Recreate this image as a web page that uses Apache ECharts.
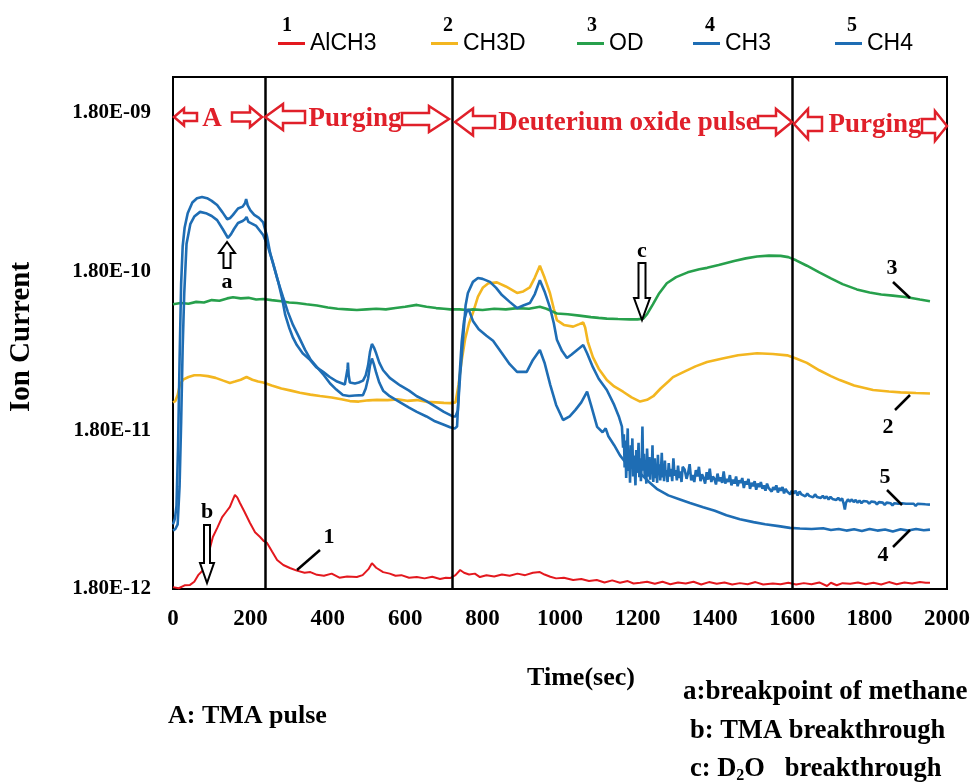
<!DOCTYPE html>
<html><head><meta charset="utf-8">
<script src="https://cdn.jsdelivr.net/npm/echarts@6/dist/echarts.min.js"></script>
<style>html,body{margin:0;padding:0;background:#fff}#c{width:971px;height:784px}</style>
</head><body><div id="c"></div><script>
// Ion current values in pA (1e-12 A), [time (s), value]
const AlCH3 = [[0,1.85],[15,1.82],[30,1.9],[44,1.91],[55,2.0],[65,2.2],[78,2.37],[90,2.9],[103,3.83],[115,4.4],[127,5.11],[137,5.5],[147,5.92],[155,6.6],[160,7.04],[166,6.8],[173,6.27],[185,5.5],[199,4.69],[212,4.1],[225,3.83],[235,3.6],[243,3.51],[256,3.1],[269,2.74],[285,2.55],[302,2.44],[320,2.35],[340,2.28],[355,2.3],[372,2.21],[390,2.18],[410,2.25],[430,2.12],[450,2.16],[475,2.14],[490,2.2],[505,2.4],[514,2.62],[525,2.45],[543,2.3],[560,2.25],[575,2.18],[590,2.2],[610,2.12],[630,2.14],[650,2.1],[670,2.15],[690,2.08],[705,2.12],[716,2.11],[730,2.2],[742,2.37],[752,2.28],[765,2.22],[780,2.25],[793,2.14],[810,2.2],[830,2.16],[850,2.22],[870,2.18],[890,2.25],[910,2.2],[930,2.28],[948,2.3],[960,2.22],[975,2.15],[990,2.1],[1010,2.12],[1034,2.05],[1055,2.08],[1075,2.02],[1095,2.05],[1115,1.98],[1135,2.04],[1155,1.97],[1175,2.02],[1190,1.95],[1207,1.97],[1225,2.0],[1245,1.94],[1265,2.0],[1285,1.93],[1305,1.98],[1325,1.95],[1345,2.0],[1365,1.92],[1385,1.99],[1405,1.94],[1425,1.98],[1445,1.92],[1465,1.96],[1485,1.93],[1505,1.99],[1525,1.92],[1550,1.95],[1570,1.93],[1590,1.97],[1610,1.92],[1630,1.96],[1650,1.93],[1670,1.98],[1690,1.88],[1700,1.97],[1715,1.9],[1730,1.96],[1750,1.94],[1770,1.98],[1790,1.93],[1810,1.97],[1830,1.92],[1850,1.99],[1870,1.93],[1890,1.98],[1910,1.95],[1930,1.99],[1945,1.97],[1956,1.97]];
const CH3D = [[0,27],[6,27.5],[12,30],[18,35],[26,37.5],[40,39],[55,40],[70,40],[90,39.5],[110,38.5],[130,37],[147,35.8],[160,36.5],[175,37.5],[190,39],[205,37.5],[220,36.5],[233,36],[255,34.5],[280,33],[305,32],[328,31],[355,30.2],[380,29.6],[410,29],[435,28.2],[457,27.5],[480,27.3],[505,27.8],[527,28],[555,27.9],[580,28.2],[605,27.6],[630,27.9],[655,27.2],[680,27],[700,26.8],[716,26.7],[730,27],[738,35],[745,48],[755,68],[765,85],[775,99],[788,125],[801,143],[815,152],[837,154],[860,145],[889,132],[905,135],[922,143],[935,165],[948,196],[960,165],[974,132],[984,105],[992,89],[1010,83],[1034,81],[1050,84],[1060,86],[1065,80],[1072,65],[1085,52],[1100,44],[1121,37.3],[1140,34],[1163,31.5],[1185,29],[1207,27.3],[1225,28],[1241,29.5],[1260,33],[1280,36.5],[1292,38.9],[1320,42],[1350,45.5],[1380,48.5],[1420,51],[1460,53.5],[1509,55],[1550,54.5],[1587,53.4],[1610,51],[1638,47.9],[1670,43],[1700,39.5],[1723,37.3],[1760,34.5],[1809,32.3],[1850,31.6],[1880,31.2],[1920,30.9],[1956,30.7]];
const OD = [[0,112],[20,114],[40,113],[60,116],[80,115],[100,119],[120,118],[140,122],[155,124],[175,122],[195,123],[215,120],[233,121],[255,119],[280,117],[300,115],[320,114],[345,112],[372,110],[400,107],[425,105],[450,104],[475,103],[500,104],[525,105],[550,104],[575,106],[600,108],[630,111],[655,108],[680,106],[700,105],[716,104],[740,104],[760,103],[775,104],[800,103],[830,105],[860,104],[890,106],[920,105],[948,108],[965,105],[980,101],[992,98],[1020,97],[1050,95],[1080,93],[1100,92],[1121,91],[1150,90.5],[1180,90],[1200,90],[1215,91],[1225,97],[1240,112],[1255,130],[1276,152],[1300,166],[1330,178],[1360,186],[1380,190],[1410,198],[1450,210],[1480,218],[1509,224],[1540,227],[1570,226],[1590,222],[1610,212],[1638,196],[1670,178],[1700,163],[1730,150],[1767,139],[1800,133],[1830,129],[1860,127],[1897,124],[1930,120],[1956,117]];
const CH3 = [[0,4.2],[6,4.3],[12,4.6],[17,8],[21,20],[25,60],[29,130],[35,270],[45,360],[55,400],[70,428],[85,420],[100,403],[114,380],[128,335],[142,293],[150,310],[158,335],[168,364],[180,375],[186,385],[190,398],[195,370],[205,360],[215,349],[233,306],[245,260],[258,204],[270,160],[284,125],[297,100],[310,83],[325,70],[341,58],[356,50],[372,45],[390,40],[406,35.5],[422,32.5],[439,30],[455,29.6],[470,29.8],[491,30],[498,33],[504,38],[509,46],[514,51],[519,47],[525,41.5],[533,36],[543,32],[560,29.5],[587,27],[610,25],[630,23.5],[655,22],[677,20.5],[700,19.5],[716,18.8],[728,18.5],[734,19],[740,38],[746,65],[752,88],[758,100],[764,104],[775,88],[790,78],[810,71],[827,66],[850,55],[870,47],[889,42],[914,42],[930,50],[948,57.7],[960,48],[975,34.7],[990,26],[1008,20.9],[1025,22],[1040,24.2],[1055,27],[1070,31.5],[1080,26],[1096,18.9],[1110,17.5],[1118,18.5],[1125,16.5],[1140,14.5],[1155,12.5],[1173,11],[1190,10.3],[1207,9.66],[1230,8.5],[1250,7.7],[1280,7.0],[1310,6.6],[1336,6.27],[1370,5.9],[1400,5.6],[1430,5.25],[1465,4.95],[1500,4.75],[1530,4.6],[1565,4.48],[1594,4.37],[1620,4.33],[1650,4.3],[1680,4.35],[1700,4.24],[1720,4.3],[1740,4.2],[1760,4.28],[1780,4.18],[1800,4.3],[1820,4.2],[1840,4.27],[1860,4.15],[1880,4.28],[1900,4.2],[1920,4.3],[1940,4.22],[1956,4.26]];
const CH4 = [[0,4.6],[5,5.0],[9,6],[13,14],[17,50],[21,150],[25,260],[30,340],[38,420],[50,490],[62,522],[75,531],[88,522],[100,502],[114,473],[128,425],[140,385],[148,392],[155,410],[168,450],[180,462],[186,485],[189,515],[193,470],[200,438],[210,410],[222,392],[233,368],[243,300],[251,236],[262,190],[272,155],[282,122],[290,96],[300,80],[310,69],[320,62],[335,55],[354,50],[370,45],[388,42],[405,39],[424,36.5],[444,35],[449,36],[451,44],[452,48],[454,40],[457,36],[470,35.5],[480,36],[491,37],[498,40],[504,46],[509,56],[514,63],[519,60],[525,55],[533,48],[543,43],[560,38.5],[587,34.5],[610,32],[630,29.5],[655,27.5],[677,25.5],[700,23.5],[723,22],[730,22],[736,24],[742,40],[750,70],[756,110],[762,132],[775,155],[788,164],[800,162],[819,155],[835,142],[850,128],[870,116],[889,106],[905,110],[922,114],[935,130],[948,159],[960,135],[974,107],[984,85],[992,67],[1005,57],[1018,51.4],[1030,54],[1045,58],[1060,62],[1070,55],[1085,45],[1100,38],[1121,32.3],[1140,26],[1152,22],
[1160,19],[1163,14],[1165,17],[1167,10.5],[1169,15.5],[1171,9],[1173,13],[1175,18.5],[1177,10],[1179,12],[1181,8.4],[1183,14.5],[1185,11],[1187,16],[1189,9.2],[1191,12.5],[1193,10.2],[1195,8.1],[1197,13.5],[1199,9.8],[1201,11.5],[1203,15],[1205,9.1],[1207,12],[1209,8.6],[1211,10.8],[1213,19],[1215,10],[1217,12.8],[1219,9],[1221,11.2],[1223,8.3],[1225,13.8],[1227,10.4],[1229,9.2],[1231,12.2],[1233,8.8],[1235,11],[1237,9.9],[1239,14.5],[1241,8.5],[1243,10.6],[1245,12],[1247,9],[1249,10.8],[1251,8.4],[1253,12.6],[1255,9.6],[1257,11],[1259,8.7],[1261,10.2],[1263,13],[1265,9.1],[1267,10.5],[1269,8.6],[1271,11.6],[1273,9.4],[1275,10.1],[1278,8.5],[1281,11.2],[1284,9.2],[1287,10.3],[1290,8.6],[1293,12],[1296,9.3],[1299,10.1],[1302,8.7],[1305,10.8],[1308,9],[1311,9.9],[1314,8.5],[1317,10.6],
[1322,10.2],[1327,8.9],[1331,9.7],[1335,11],[1339,8.7],[1343,9.4],[1347,8.5],[1351,10.1],[1355,9.2],[1359,10.6],[1363,8.6],[1367,9.5],[1371,9.0],[1375,8.3],[1379,9.8],[1383,8.8],[1387,10.3],[1391,8.5],[1395,9.2],[1399,8.9],[1403,8.2],[1407,9.6],[1411,8.6],[1415,9.1],[1419,8.4],[1423,9.9],[1427,8.3],[1431,8.9],[1435,8.5],[1439,9.4],[1443,8.1],[1447,8.8],[1451,8.3],[1455,9.2],[1459,8.0],[1463,8.7],[1467,8.4],[1471,9.0],[1475,7.8],[1479,8.6],[1483,8.2],[1487,8.9],[1491,7.7],[1495,8.4],[1499,8.0],[1503,8.6],[1507,7.6],[1511,8.3],[1515,7.9],[1519,8.5],[1523,7.7],[1527,8.1],[1531,7.5],[1535,8.3],[1539,7.8],[1543,8.0],[1547,7.4],[1551,7.9],[1555,7.6],[1559,8.1],[1563,7.3],[1567,7.8],[1571,7.5],[1575,7.9],[1579,7.2],[1583,7.7],[1587,7.4],[1591,7.6],[1595,7.1],[1599,7.5],[1604,7.2],[1609,7.5],[1614,7.0],[1619,7.4],[1624,7.1],[1629,7.3],[1634,6.9],[1639,7.2],[1644,6.95],[1649,7.15],[1654,6.8],[1659,7.1],[1664,6.85],[1669,7.05],[1674,6.75],[1679,6.95],[1684,6.7],[1689,6.9],[1694,6.6],[1699,6.85],[1704,6.65],[1709,6.8],[1714,6.55],[1719,6.75],[1724,6.5],[1729,6.7],[1733,6.2],[1736,5.7],[1739,6.3],[1744,6.6],[1749,6.4],[1754,6.6],[1759,6.35],[1764,6.55],[1769,6.3],[1774,6.5],[1779,6.25],[1784,6.45],[1789,6.3],[1794,6.4],[1799,6.2],[1804,6.4],[1809,6.25],[1814,6.35],[1819,6.15],[1824,6.35],[1829,6.2],[1834,6.3],[1839,6.1],[1844,6.3],[1849,6.15],[1854,6.25],[1859,6.05],[1864,6.25],[1869,6.1],[1874,6.2],[1879,6.05],[1884,6.25],[1889,6.1],[1894,6.2],[1899,6.05],[1904,6.2],[1909,6.1],[1914,6.2],[1919,6.0],[1924,6.2],[1929,6.08],[1934,6.18],[1939,6.05],[1944,6.15],[1949,6.08],[1956,6.12]];

const seriesNames = ['AlCH3','CH3D','OD','CH3','CH4'];
const seriesNumbers = ['1','2','3','4','5'];
const seriesColors = ['#E3181E','#F3B620','#27A04C','#1E6DB4','#1E6DB4'];
const yTickLabels = ['1.80E-12','1.80E-11','1.80E-10','1.80E-09'];
const LABEL_BASE = 1.8;          // tick labels are 1.80 x 10^n
const phaseBoundaries = [238, 722, 1600];

const serif = "'Liberation Serif','Times New Roman',serif";
const sans = "'Liberation Sans',Arial,sans-serif";
const RED = '#E0202A';

function hArrow(x0, x1, cy, H, h, L, dir) {
  let p;
  if (dir === 'left') p = [[x0,cy],[x0+L,cy-H/2],[x0+L,cy-h/2],[x1,cy-h/2],[x1,cy+h/2],[x0+L,cy+h/2],[x0+L,cy+H/2]];
  else p = [[x1,cy],[x1-L,cy-H/2],[x1-L,cy-h/2],[x0,cy-h/2],[x0,cy+h/2],[x1-L,cy+h/2],[x1-L,cy+H/2]];
  return {type:'polygon', shape:{points:p}, style:{fill:'rgba(0,0,0,0)', stroke:RED, lineWidth:2.5, lineJoin:'miter'}, z:10};
}
function vArrow(cx, y0, y1, W, w, L, dir) {
  let p;
  if (dir === 'down') p = [[cx,y1],[cx-W/2,y1-L],[cx-w/2,y1-L],[cx-w/2,y0],[cx+w/2,y0],[cx+w/2,y1-L],[cx+W/2,y1-L]];
  else p = [[cx,y0],[cx-W/2,y0+L],[cx-w/2,y0+L],[cx-w/2,y1],[cx+w/2,y1],[cx+w/2,y0+L],[cx+W/2,y0+L]];
  return {type:'polygon', shape:{points:p}, style:{fill:'#fff', stroke:'#000', lineWidth:2}, z:10};
}
function txt(x, y, s, size, opt) {
  return Object.assign({type:'text', x:x, y:y, z:11, style:Object.assign({text:s, font:'bold '+size+'px '+serif, fill:'#000', align:'center', verticalAlign:'middle'}, (opt&&opt.style)||{})}, opt&&opt.el||{});
}
function seg(x1,y1,x2,y2){ return {type:'line', shape:{x1,y1,x2,y2}, style:{stroke:'#000', lineWidth:2.5}, z:10}; }

const legendX = [278, 431, 577, 693, 835];
const legends = seriesNames.map((n,i)=>({
  data:[n], left:legendX[i], top:32, padding:0, icon:'rect', itemWidth:27, itemHeight:3,
  textStyle:{fontSize:23, fontFamily:sans, color:'#000', padding:[0,0,0,0]}
}));

const graphics = [
  ...seriesNumbers.map((s,i)=>txt([287,448,592,710,852][i], 26, s, 20)),
  hArrow(174,197,117,17,8,10,'left'), txt(212,119,'A',27,{style:{fill:RED}}), hArrow(232,262,117,20,9,12,'right'),
  hArrow(265,305,117,26,12,18,'left'), txt(355,119,'Purging',27,{style:{fill:RED}}), hArrow(402,449,119,26,12,20,'right'),
  hArrow(455,495,122,27,12,18,'left'), txt(628,123,'Deuterium oxide pulse',27,{style:{fill:RED}}), hArrow(758,792,122,26,12,16,'right'),
  hArrow(794,822,124,30,14,14,'left'), txt(875,125,'Purging',27,{style:{fill:RED}}), hArrow(922,947,126,30,14,12,'right'),
  vArrow(227,242,268,16,7,11,'up'), txt(227,282,'a',22),
  vArrow(207,525,583,14,6,20,'down'), txt(207,512,'b',22),
  vArrow(642,263,320,16,7,22,'down'), txt(642,251,'c',22),
  txt(329,537,'1',22), seg(320,550,297,570),
  txt(888,427,'2',22), seg(895,410,910,395),
  txt(892,268,'3',22), seg(893,282,910,298),
  txt(883,555,'4',22), seg(893,547,910,530),
  txt(885,477,'5',22), seg(887,490,902,505),
  txt(22,337,'Ion Current',29,{el:{rotation:Math.PI/2}}),
  txt(581,678,'Time(sec)',26),
  txt(168,716,'A: TMA pulse',26,{style:{align:'left'}}),
  txt(683,692,'a:breakpoint of methane',27,{style:{align:'left'}}),
  txt(690,731,'b: TMA breakthrough',26.5,{style:{align:'left'}}),
  {type:'text', x:690, y:769, z:11, style:{text:'c: D{s|2}O   breakthrough', font:'bold 26.5px '+serif, fill:'#000', align:'left', verticalAlign:'middle',
    rich:{s:{font:'bold 16px '+serif, fill:'#000', padding:[14,0,0,0]}}}}
];

const dataSets = [AlCH3, CH3D, OD, CH3, CH4];
const series = dataSets.map((d,i)=>({
  name: seriesNames[i], type:'line', showSymbol:false, symbol:'none', color:seriesColors[i],
  lineStyle:{width: i===0 ? 2 : 2.6, color:seriesColors[i]},
  data: d.map(p=>[p[0], p[1]/LABEL_BASE]),
  z: 3,
  markLine: i===0 ? {symbol:['none','none'], silent:true, label:{show:false},
    lineStyle:{color:'#000', width:2.5, type:'solid'}, emphasis:{disabled:true},
    data: phaseBoundaries.map(x=>({xAxis:x}))} : undefined
}));

const chart = echarts.init(document.getElementById('c'));
chart.setOption({
  animation:false,
  backgroundColor:'#fff',
  grid:{left:173, right:24, top:77, bottom:195, show:true, borderColor:'#000', borderWidth:2, backgroundColor:'transparent', containLabel:false, outerBoundsMode:'none'},
  legend: legends,
  xAxis:{type:'value', min:0, max:2000, interval:200,
    axisLine:{show:true, lineStyle:{color:'#000', width:2}}, axisTick:{show:false}, splitLine:{show:false},
    axisLabel:{color:'#000', fontFamily:serif, fontWeight:'bold', fontSize:23, margin:19, formatter:v=>String(v)}},
  yAxis:{type:'log', logBase:10, min:1, max:1683,
    axisLine:{show:true, lineStyle:{color:'#000', width:2}}, axisTick:{show:false}, splitLine:{show:false}, minorTick:{show:false},
    axisLabel:{color:'#000', fontFamily:serif, fontWeight:'bold', fontSize:21, margin:22, showMaxLabel:false,
      formatter:v=>{const k=Math.round(Math.log10(v)); return yTickLabels[k]||'';}}},
  series: series,
  graphic: graphics
});
</script></body></html>
